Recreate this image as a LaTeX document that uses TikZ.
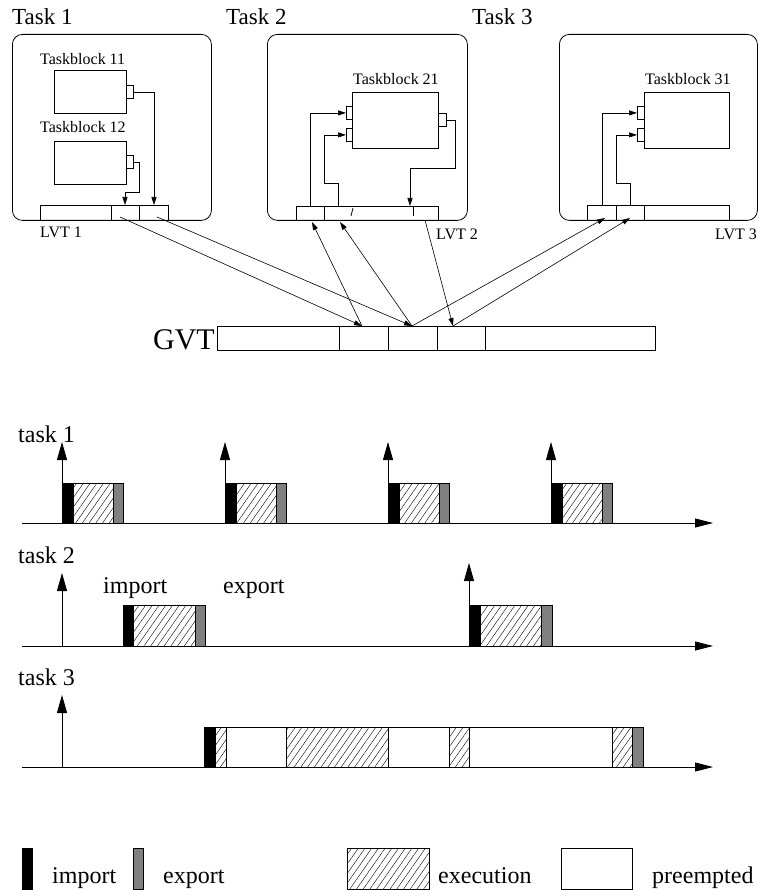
\documentclass[tikz,border=0pt]{standalone}
\usepackage{fontspec}
\setmainfont{Liberation Serif}
\usetikzlibrary{arrows.meta,patterns.meta}
\definecolor{ink}{HTML}{000000}
\definecolor{expgray}{HTML}{808080}
\tikzset{
  taskbox/.style={draw=ink, rounded corners=10pt, line width=0.8pt, inner sep=0pt, anchor=north west},
  tblock/.style={draw=ink, line width=0.8pt, inner sep=0pt, anchor=north west},
  port/.style={draw=ink, line width=0.8pt, inner sep=0pt, minimum width=7pt,
               minimum height=13pt, anchor=north west},
  cell/.style={draw=ink, line width=0.8pt, inner sep=0pt, anchor=north west},
  boldcell/.style={cell, line width=1.3pt},
  arrow/.style={-{Triangle[length=8pt,width=5pt]}, line width=0.6pt, draw=ink},
  timeaxis/.style={-{Triangle[length=18pt,width=9pt]}, line width=0.8pt, draw=ink},
  release/.style={-{Triangle[length=18pt,width=10pt]}, line width=0.8pt, draw=ink},
  tasklbl/.style={font=\fontsize{23}{25}\selectfont, anchor=base west, inner sep=0pt},
  lbl/.style={font=\fontsize{16}{18}\selectfont, anchor=base west, inner sep=0pt},
  biglbl/.style={font=\fontsize{24}{26}\selectfont, anchor=base west, inner sep=0pt},
  imp/.style={fill=ink, draw=ink, line width=0.6pt},
  exe/.style={pattern={Lines[angle=55,distance=5.5pt,line width=0.4pt]}, draw=ink, line width=0.6pt},
  exq/.style={fill=expgray, draw=ink, line width=0.6pt},
  prebar/.style={fill=white, draw=ink, line width=0.6pt}
}

\begin{document}
\begin{tikzpicture}[x=1pt,y=-1pt,>=Triangle]
      \useasboundingbox (0,0) rectangle (758,890);

      % tasks with their taskblocks
      \node[tasklbl] (t1) at (12,25) {Task 1};
      \node[tasklbl] (t2) at (226,25) {Task 2};
      \node[tasklbl] (t3) at (472,25) {Task 3};
      \node[taskbox, minimum width=199pt, minimum height=186pt] (task1) at (12,34) {};
      \node[taskbox, minimum width=200pt, minimum height=186pt] (task2) at (267,34) {};
      \node[taskbox, minimum width=198pt, minimum height=186pt] (task3) at (559,34) {};

      \node[lbl] (tb11l) at (40,65) {Taskblock 11};
      \node[tblock, minimum width=72pt, minimum height=43pt] (tb11) at (54,70) {};
      \node[lbl] (tb12l) at (40,133) {Taskblock 12};
      \node[tblock, minimum width=72pt, minimum height=43pt] (tb12) at (54,141) {};
      \node[lbl] (tb21l) at (353,85) {Taskblock 21};
      \node[tblock, minimum width=86pt, minimum height=56pt] (tb21) at (352,92) {};
      \node[lbl] (tb31l) at (645,85) {Taskblock 31};
      \node[tblock, minimum width=85pt, minimum height=56pt] (tb31) at (644,92) {};

      \node[port] (p11) at (126,85) {};
      \node[port] (p12) at (126,155) {};
      \node[port, minimum width=6pt] (p21a) at (346,106) {};
      \node[port, minimum width=6pt] (p21b) at (346,128) {};
      \node[port, minimum width=8pt] (p21o) at (438,113) {};
      \node[port] (p31a) at (637,106) {};
      \node[port] (p31b) at (637,128) {};

      % local virtual time bars
      \node[cell, minimum width=71pt, minimum height=15pt] (lvt1a) at (40,205) {};
      \node[cell, minimum width=28pt, minimum height=15pt] (lvt1b) at (111,205) {};
      \node[boldcell, minimum width=29pt, minimum height=15pt] (lvt1c) at (139,205) {};
      \node[boldcell, minimum width=28pt, minimum height=14pt] (lvt2a) at (296,206) {};
      \node[cell, minimum width=114pt, minimum height=14pt] (lvt2b) at (324,206) {};
      \draw[line width=0.8pt] (353,208) -- (351,216);
      \draw[line width=0.8pt] (413,206) -- (413,216);
      \node[cell, minimum width=29pt, minimum height=15pt] (lvt3a) at (587,205) {};
      \node[cell, minimum width=28pt, minimum height=15pt] (lvt3b) at (616,205) {};
      \node[cell, minimum width=85pt, minimum height=15pt] (lvt3c) at (644,205) {};
      \node[lbl] (lvt1l) at (40,238) {LVT 1};
      \node[lbl] (lvt2l) at (436,240) {LVT 2};
      \node[lbl, anchor=base east] (lvt3l) at (757,240) {LVT 3};

      % ports to and from the bars
      \coordinate (c11) at (154,205);
      \coordinate (c12) at (125,205);
      \draw[arrow] (p11.east) -| (c11);
      \draw[arrow] (p12.east) -| (139,192) -| (c12);
      \coordinate (c21a) at (310,206);
      \coordinate (c21b) at (338,206);
      \coordinate (c21o) at (410,206);
      \draw[arrow] (c21a) |- (p21a.west);
      \draw[arrow] (c21b) |- (324,183) |- (p21b.west);
      \draw[arrow] (p21o.east) -| (455,168) -| (c21o);
      \coordinate (c31a) at (602,205);
      \coordinate (c31b) at (630,205);
      \draw[arrow] (c31a) |- (p31a.west);
      \draw[arrow] (c31b) |- (616,183) |- (p31b.west);

      % global virtual time
      \node[font=\fontsize{30}{32}\selectfont, anchor=base east, inner sep=0pt] (gvtl) at (215,349) {GVT};
      \node[cell, minimum width=122pt, minimum height=24pt] (gvt1) at (217,326) {};
      \node[cell, minimum width=49pt, minimum height=24pt] (gvt2) at (339,326) {};
      \node[boldcell, minimum width=49pt, minimum height=24pt] (gvt3) at (388,326) {};
      \node[cell, minimum width=48pt, minimum height=24pt] (gvt4) at (437,326) {};
      \node[cell, minimum width=170pt, minimum height=24pt] (gvt5) at (485,326) {};

      \coordinate (l1a) at (120,217);
      \coordinate (l1b) at (157,217);
      \coordinate (l2) at (425,220);
      \coordinate (v2a) at (312,222);
      \coordinate (v2b) at (340,222);
      \coordinate (v3a) at (605,218);
      \coordinate (v3b) at (630,218);
      \coordinate (gx1) at (362,326);
      \coordinate (gx2) at (412,326);
      \coordinate (gx3) at (453,326);
      \draw[arrow] (l1a) -- (gx1);
      \draw[arrow] (l1b) -- (gx2);
      \draw[arrow] (gx1) -- (v2a);
      \draw[arrow] (gx2) -- (v2b);
      \draw[arrow] (l2) -- (gx3);
      \draw[arrow] (gx2) -- (v3a);
      \draw[arrow] (gx3) -- (v3b);

      % task 1 timeline
      \node[biglbl] (tk1) at (18,442) {task 1};
      \draw[timeaxis] (22,523) -- (713,523);
      \foreach \x in {62,225,388,551} {
        \draw[imp] (\x,483) rectangle ({\x+11},523);
        \draw[exe] ({\x+11},483) rectangle ({\x+51},523);
        \draw[exq] ({\x+51},483) rectangle ({\x+61},523);
        \draw[release] (\x,523) -- (\x,442);
      }

      % task 2 timeline
      \node[biglbl] (tk2) at (18,563) {task 2};
      \node[biglbl] (impl) at (103,593) {import};
      \node[biglbl] (expl) at (223,593) {export};
      \draw[timeaxis] (22,646) -- (713,646);
      \draw[release] (62,646) -- (62,573);
      \draw[imp] (123,605) rectangle (133,646);
      \draw[exe] (133,605) rectangle (195,646);
      \draw[exq] (195,605) rectangle (205,646);
      \draw[imp] (469,605) rectangle (480,646);
      \draw[exe] (480,605) rectangle (541,646);
      \draw[exq] (541,605) rectangle (552,646);
      \draw[release] (469,605) -- (469,563);

      % task 3 timeline
      \node[biglbl] (tk3) at (18,685) {task 3};
      \draw[timeaxis] (22,767) -- (713,767);
      \draw[release] (62,767) -- (62,695);
      \draw[prebar] (204,727) rectangle (643,767);
      \draw[imp] (204,727) rectangle (215,767);
      \foreach \a/\b in {215/226,286/388,449/469,612/632} {
        \draw[exe] (\a,727) rectangle (\b,767);
      }
      \draw[exq] (632,727) rectangle (643,767);

      % legend
      \draw[imp] (22,848) rectangle (32,889);
      \node[biglbl] (limp) at (52,883) {import};
      \draw[exq] (133,848) rectangle (143,889);
      \node[biglbl] (lexp) at (163,883) {export};
      \draw[exe] (347,848) rectangle (429,889);
      \node[biglbl] (lexe) at (438,883) {execution};
      \draw[prebar] (561,848) rectangle (632,889);
      \node[biglbl] (lpre) at (652,883) {preempted};
    \end{tikzpicture}
\end{document}
